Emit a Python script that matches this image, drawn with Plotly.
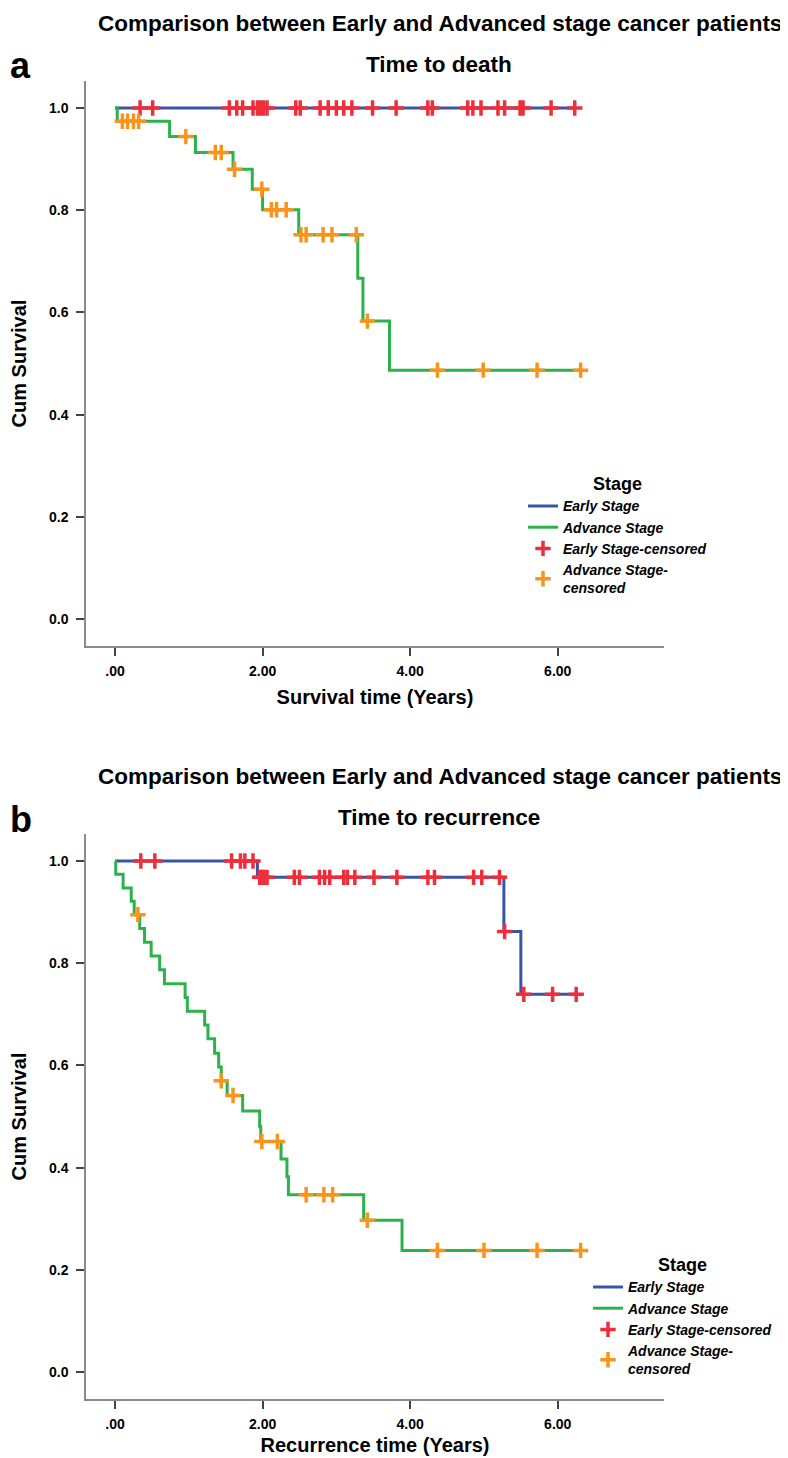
import plotly.graph_objects as go

# ---------------- data ----------------
# Panel a: time to death
early_death_t = [0.0, 6.23]
early_death_s = [1.0, 1.0]
early_death_cens_t = [0.34, 0.51, 1.55, 1.65, 1.73, 1.87, 1.93, 1.97, 2.01, 2.06,
                      2.45, 2.51, 2.78, 2.89, 3.00, 3.10, 3.21, 3.49, 3.81, 4.24, 4.30, 4.78,
                      4.85, 4.96, 5.19, 5.28, 5.49, 5.53, 5.91, 6.23]
early_death_cens_s = [1.0, 1.0, 1.0, 1.0, 1.0, 1.0, 1.0, 1.0, 1.0, 1.0,
                      1.0, 1.0, 1.0, 1.0, 1.0, 1.0, 1.0, 1.0, 1.0, 1.0, 1.0, 1.0,
                      1.0, 1.0, 1.0, 1.0, 1.0, 1.0, 1.0, 1.0]

adv_death_t = [0.0, 0.03, 0.74, 1.09, 1.60, 1.86, 2.00, 2.49, 3.29, 3.36, 3.72, 6.31]
adv_death_s = [1.0, 0.974, 0.944, 0.913, 0.880, 0.841, 0.801, 0.752, 0.667, 0.583, 0.487, 0.487]
adv_death_cens_t = [0.10, 0.17, 0.25, 0.32, 0.96, 1.36, 1.44, 1.62, 1.99, 2.12, 2.19, 2.32,
                    2.52, 2.59, 2.82, 2.94, 3.27, 3.42, 4.37, 4.99, 5.72, 6.31]
adv_death_cens_s = [0.974, 0.974, 0.974, 0.974, 0.944, 0.913, 0.913, 0.880, 0.841, 0.801, 0.801, 0.801,
                    0.752, 0.752, 0.752, 0.752, 0.752, 0.583, 0.487, 0.487, 0.487, 0.487]

# Panel b: time to recurrence
early_rec_t = [0.0, 1.93, 5.27, 5.50, 6.25]
early_rec_s = [1.0, 0.968, 0.862, 0.739, 0.739]
early_rec_cens_t = [0.35, 0.54, 1.58, 1.70, 1.76, 1.87, 1.96, 1.99, 2.02, 2.06, 2.43, 2.50,
                    2.77, 2.84, 2.91, 3.10, 3.15, 3.25, 3.51, 3.82, 4.24, 4.33, 4.86, 4.97,
                    5.21, 5.28, 5.54, 5.93, 6.25]
early_rec_cens_s = [1.0, 1.0, 1.0, 1.0, 1.0, 1.0, 0.968, 0.968, 0.968, 0.968, 0.968, 0.968,
                    0.968, 0.968, 0.968, 0.968, 0.968, 0.968, 0.968, 0.968, 0.968, 0.968, 0.968, 0.968,
                    0.968, 0.862, 0.739, 0.739, 0.739]

adv_rec_t = [0.0, 0.01, 0.11, 0.22, 0.26, 0.335, 0.40, 0.49, 0.605, 0.67, 0.95, 0.98, 1.215,
             1.26, 1.35, 1.405, 1.44, 1.52, 1.73, 1.96, 1.975, 2.25, 2.33, 2.35, 3.37, 3.89, 6.31]
adv_rec_s = [1.0, 0.974, 0.947, 0.921, 0.895, 0.868, 0.841, 0.814, 0.787, 0.760, 0.733, 0.706, 0.679,
             0.652, 0.624, 0.597, 0.570, 0.541, 0.511, 0.481, 0.451, 0.417, 0.382, 0.347, 0.297, 0.238, 0.238]
adv_rec_cens_t = [0.31, 1.44, 1.60, 1.99, 2.20, 2.59, 2.83, 2.95, 3.42, 4.37, 5.00, 5.72, 6.31]
adv_rec_cens_s = [0.895, 0.570, 0.541, 0.451, 0.451, 0.347, 0.347, 0.347, 0.297, 0.238, 0.238, 0.238, 0.238]

group_names = ["Early Stage", "Advance Stage", "Early Stage-censored", "Advance Stage-<br>censored"]
x_tickvals = [0, 2, 4, 6]
x_ticktext = [".00", "2.00", "4.00", "6.00"]
y_tickvals = [0.0, 0.2, 0.4, 0.6, 0.8, 1.0]

main_title = "Comparison between Early and Advanced stage cancer patients"
sub_titles = ["Time to death", "Time to recurrence"]
x_titles = ["Survival time (Years)", "Recurrence time (Years)"]
panel_letters = ["a", "b"]

# ---------------- styling ----------------
BLUE = "#3B55A6"
GREEN = "#2DB24B"
RED = "#EE2F3B"
ORANGE = "#F7941E"
AXIS = "#8a8a8a"
FONT = "Liberation Sans, Arial, sans-serif"
W, H = 788, 1458

fig = go.Figure()

panels = [
    (early_death_t, early_death_s, adv_death_t, adv_death_s,
     early_death_cens_t, early_death_cens_s, adv_death_cens_t, adv_death_cens_s, "x", "y", "legend"),
    (early_rec_t, early_rec_s, adv_rec_t, adv_rec_s,
     early_rec_cens_t, early_rec_cens_s, adv_rec_cens_t, adv_rec_cens_s, "x2", "y2", "legend2"),
]

for (et, es, at, as_, ect, ecs, act, acs, xr, yr, lg) in panels:
    fig.add_trace(go.Scatter(x=et, y=es, mode="lines", line=dict(color=BLUE, width=3, shape="hv"),
                             name=group_names[0], xaxis=xr, yaxis=yr, legend=lg))
    fig.add_trace(go.Scatter(x=at, y=as_, mode="lines", line=dict(color=GREEN, width=3, shape="hv"),
                             name=group_names[1], xaxis=xr, yaxis=yr, legend=lg))
    fig.add_trace(go.Scatter(x=ect, y=ecs, mode="markers",
                             marker=dict(symbol="cross-thin", size=11, line=dict(color=RED, width=3.5)),
                             name=group_names[2], xaxis=xr, yaxis=yr, legend=lg, cliponaxis=False))
    fig.add_trace(go.Scatter(x=act, y=acs, mode="markers",
                             marker=dict(symbol="cross-thin", size=11, line=dict(color=ORANGE, width=3.5)),
                             name=group_names[3], xaxis=xr, yaxis=yr, legend=lg, cliponaxis=False))

# pixel geometry
x_left, x_right = 78, 656
unit = 511.0
y_one = [100.0, 853.0]


def ydom(one_px):
    top = one_px - 0.053 * unit
    bot = one_px + 1.053 * unit
    return [1 - bot / H, 1 - top / H]


xaxis_common = dict(
    domain=[x_left / W, x_right / W], range=[-0.393, 7.44],
    tickvals=x_tickvals, ticktext=x_ticktext,
    ticks="outside", ticklen=8, tickwidth=1.5, tickcolor="#444", ticklabelstandoff=3,
    showline=True, linecolor=AXIS, linewidth=1.5, showgrid=False, zeroline=False,
    tickfont=dict(family=FONT, size=14, color="black", weight="bold"),
)
yaxis_common = dict(
    range=[-0.053, 1.053], tickvals=y_tickvals, tickformat=".1f",
    ticks="outside", ticklen=8, tickwidth=1.5, tickcolor="#444", ticklabelstandoff=5,
    showline=True, linecolor=AXIS, linewidth=1.5, showgrid=False, zeroline=False,
    tickfont=dict(family=FONT, size=14, color="black", weight="bold"),
    title=dict(text="Cum Survival", font=dict(family=FONT, size=20, color="black", weight="bold"), standoff=19),
)

fig.update_layout(
    xaxis=dict(xaxis_common, anchor="y",
               title=dict(text=x_titles[0], font=dict(family=FONT, size=20, color="black", weight="bold"), standoff=12)),
    yaxis=dict(yaxis_common, anchor="x", domain=ydom(y_one[0])),
    xaxis2=dict(xaxis_common, anchor="y2",
                title=dict(text=x_titles[1], font=dict(family=FONT, size=20, color="black", weight="bold"), standoff=7)),
    yaxis2=dict(yaxis_common, anchor="x2", domain=ydom(y_one[1])),
)

legend_common = dict(
    xanchor="left", yanchor="top", bgcolor="rgba(0,0,0,0)", borderwidth=0,
    font=dict(family=FONT, size=14, color="black", weight="bold", style="italic"),
    title=dict(text="Stage", side="top center",
               font=dict(family=FONT, size=18, color="black", weight="bold", style="normal")),
    tracegroupgap=0, itemwidth=30,
)
fig.update_layout(
    legend=dict(legend_common, x=515 / W, y=1 - 459 / H),
    legend2=dict(legend_common, x=580 / W, y=1 - 1240 / H),
)

annotations = []
for i, one in enumerate(y_one):
    off = one - 100.0
    annotations.append(dict(text=main_title, x=432 / W, y=1 - (15 + off) / H, xref="paper", yref="paper",
                            showarrow=False, xanchor="center", yanchor="middle",
                            font=dict(family=FONT, size=22.5, color="black", weight="bold")))
    annotations.append(dict(text=sub_titles[i], x=431 / W, y=1 - (56 + off) / H, xref="paper", yref="paper",
                            showarrow=False, xanchor="center", yanchor="middle",
                            font=dict(family=FONT, size=22.5, color="black", weight="bold")))
    annotations.append(dict(text=panel_letters[i], x=0, y=1 - (58 + off) / H, xref="paper", yref="paper",
                            showarrow=False, xanchor="left", yanchor="middle",
                            font=dict(family=FONT, size=36, color="black", weight="bold")))

fig.update_layout(
    width=W, height=H, margin=dict(l=0, r=0, t=0, b=0),
    paper_bgcolor="white", plot_bgcolor="white",
    annotations=annotations, showlegend=True,
)

fig.write_html("out.html")
